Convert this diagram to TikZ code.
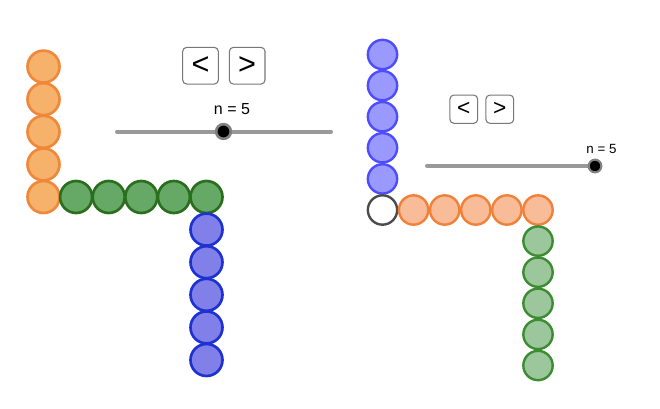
\documentclass[tikz,border=0pt]{standalone}
\usepackage{fontspec}
\setmainfont{Liberation Sans}
\definecolor{orangefill}{HTML}{F6B26B}
\definecolor{orangeline}{HTML}{F0883A}
\definecolor{greenfill}{HTML}{66A866}
\definecolor{greenline}{HTML}{2A6E1E}
\definecolor{bluefill}{HTML}{8080E8}
\definecolor{blueline}{HTML}{1E32D2}
\definecolor{lilacfill}{HTML}{9999FF}
\definecolor{lilacline}{HTML}{4D4DFF}
\definecolor{peachfill}{HTML}{F8BC98}
\definecolor{peachline}{HTML}{F28038}
\definecolor{sagefill}{HTML}{9CC69C}
\definecolor{sageline}{HTML}{3C8C32}
\definecolor{trackgray}{HTML}{999999}
\definecolor{btngray}{HTML}{777777}
\tikzset{
  bead/.style={line width=2pt},
  btn/.style={draw=btngray, rounded corners=3pt, line width=0.8pt, inner sep=0pt},
  track/.style={trackgray, line width=3pt, line cap=round},
  knob/.style={circle, fill=black, draw=gray, line width=2pt, inner sep=0pt, minimum size=11pt},
}
\begin{document}
\begin{tikzpicture}[x=0.75pt, y=-0.75pt]
\useasboundingbox (0,0) rectangle (660,408);
% first figure
\foreach \k in {4,...,0}
  \filldraw[bead, fill=orangefill, draw=orangeline] (43.5,{197-32.6*\k}) circle (12pt);
\foreach \k in {1,...,5}
  \filldraw[bead, fill=greenfill, draw=greenline] ({43.5+32.6*\k},197) circle (12pt);
\foreach \k in {1,...,5}
  \filldraw[bead, fill=bluefill, draw=blueline] (206.5,{197+32.6*\k}) circle (12pt);
\node[btn, minimum width=26.7pt, minimum height=27.5pt, font=\fontsize{23pt}{23pt}\selectfont] (prevA) at (200.5,65.7) {<};
\node[btn, minimum width=26.7pt, minimum height=27.5pt, font=\fontsize{23pt}{23pt}\selectfont] (nextA) at (247.2,65.7) {>};
\draw[track] (117,131.5) coordinate (trackA) -- (331,131.5) coordinate (endA);
\node[knob] (knobA) at (223.5,131.5) {};
\node[font=\fontsize{12pt}{14pt}\selectfont] (valA) at (232,109.5) {n = 5};
% second figure
\foreach \k in {5,...,1}
  \filldraw[bead, line width=1.8pt, fill=lilacfill, draw=lilacline] (382.5,{210-31.1*\k}) circle (11pt);
\filldraw[bead, line width=1.8pt, fill=white, draw=black!70] (382.5,210) circle (11pt);
\foreach \k in {1,...,5}
  \filldraw[bead, line width=1.8pt, fill=peachfill, draw=peachline] ({382.5+31.1*\k},210) circle (11pt);
\foreach \k in {1,...,5}
  \filldraw[bead, line width=1.8pt, fill=sagefill, draw=sageline] (538,{210+31.1*\k}) circle (11pt);
\node[btn, minimum width=20.8pt, minimum height=21.2pt, font=\fontsize{17pt}{17pt}\selectfont] (prevB) at (463.8,109.2) {<};
\node[btn, minimum width=20.8pt, minimum height=21.2pt, font=\fontsize{17pt}{17pt}\selectfont] (nextB) at (499.8,109.2) {>};
\draw[track] (427,165.7) coordinate (trackB) -- (595,165.7) coordinate (endB);
\node[knob, minimum size=9.5pt, line width=1.6pt] (knobB) at (595,166) {};
\node[font=\fontsize{10pt}{12pt}\selectfont] (valB) at (601.5,148.5) {n = 5};
\end{tikzpicture}
\end{document}
